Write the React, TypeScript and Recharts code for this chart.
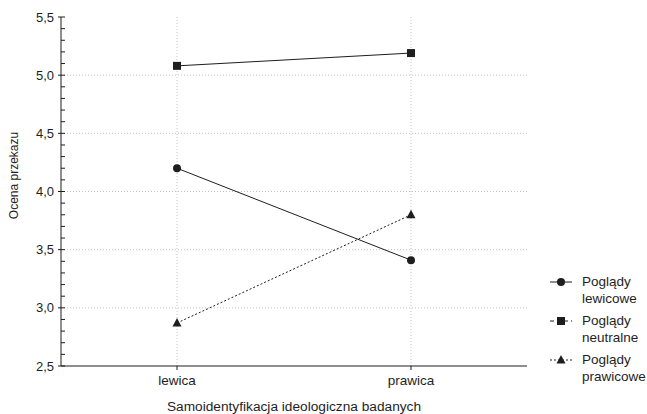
import React from "react";
import { LineChart, Line, XAxis, YAxis, ReferenceLine } from "recharts";

const categories = ["lewica", "prawica"];
const lewicowe = [4.2, 3.41];
const neutralne = [5.08, 5.19];
const prawicowe = [2.87, 3.8];

const yMajorTicks = [2.5, 3, 3.5, 4, 4.5, 5, 5.5];
const yMinorTicks = [
  2.5, 2.6, 2.7, 2.8, 2.9, 3, 3.1, 3.2, 3.3, 3.4, 3.5, 3.6, 3.7, 3.8, 3.9, 4,
  4.1, 4.2, 4.3, 4.4, 4.5, 4.6, 4.7, 4.8, 4.9, 5, 5.1, 5.2, 5.3, 5.4, 5.5,
];

const seriesKeys = ["lewicowe", "neutralne", "prawicowe"];
const legendLabels = [
  ["Poglądy", "lewicowe"],
  ["Poglądy", "neutralne"],
  ["Poglądy", "prawicowe"],
];

const data = categories.map((name, i) => ({
  name,
  lewicowe: lewicowe[i],
  neutralne: neutralne[i],
  prawicowe: prawicowe[i],
}));

const FONT = "'Liberation Sans', Arial, sans-serif";
const INK = "#1e1e1e";
const GRID = "#c4c4c4";

const isMajor = (v: number) => Math.abs(v * 2 - Math.round(v * 2)) < 1e-6;

const LeftTick = (props: any) => {
  const { x, y, payload } = props;
  const axisX = x + 7;
  const v = payload.value as number;
  if (isMajor(v)) {
    return (
      <g>
        <line x1={axisX - 3} x2={axisX + 4} y1={y} y2={y} stroke={INK} />
        <text
          x={x}
          y={y}
          textAnchor="end"
          dominantBaseline="central"
          fontSize={13}
          fontFamily={FONT}
          fill={INK}
        >
          {v.toFixed(1).replace(".", ",")}
        </text>
      </g>
    );
  }
  return <line x1={axisX} x2={axisX + 4} y1={y} y2={y} stroke={INK} />;
};

const RightTick = (props: any) => {
  const { x, y } = props;
  return <line x1={x - 4} x2={x} y1={y} y2={y} stroke={INK} />;
};

const YTitle = (props: any) => {
  const vb = props.viewBox;
  const cx = vb.x + 14;
  const cy = vb.y + vb.height / 2 - 16;
  return (
    <text
      x={cx}
      y={cy}
      transform={`rotate(-90 ${cx} ${cy})`}
      textAnchor="middle"
      dominantBaseline="central"
      fontSize={12}
      fontFamily={FONT}
      fill={INK}
    >
      Ocena przekazu
    </text>
  );
};

const CircleDot = (p: any) => (
  <circle key={`c-${p.index}`} cx={p.cx} cy={p.cy} r={4} fill={INK} />
);
const SquareDot = (p: any) => (
  <rect key={`s-${p.index}`} x={p.cx - 4} y={p.cy - 4} width={8} height={8} fill={INK} />
);
const TriangleDot = (p: any) => (
  <path
    key={`t-${p.index}`}
    d={`M${p.cx},${p.cy - 5} L${p.cx + 4.5},${p.cy + 3.5} L${p.cx - 4.5},${p.cy + 3.5} Z`}
    fill={INK}
  />
);

const seriesStyle: Record<string, { dash?: string; legendDash?: string; dot: any }> = {
  lewicowe: { dot: CircleDot },
  neutralne: { legendDash: "4 3", dot: SquareDot },
  prawicowe: { dash: "2 2", legendDash: "2 2", dot: TriangleDot },
};

const legendMarker = (key: string) => {
  if (key === "lewicowe") return <circle cx={11} cy={6} r={4} fill={INK} />;
  if (key === "neutralne") return <rect x={7} y={2} width={8} height={8} fill={INK} />;
  return <path d="M11,1 L15.5,9.5 L6.5,9.5 Z" fill={INK} />;
};

export default function App() {
  return (
    <div
      style={{
        position: "absolute",
        left: 0,
        top: 0,
        width: 647,
        height: 414,
        background: "#fff",
        fontFamily: FONT,
      }}
    >
      <LineChart
        width={647}
        height={414}
        data={data}
        margin={{ top: 17, right: 120, bottom: 0, left: 0 }}
      >
        {yMajorTicks.slice(1, -1).map((v) => (
          <ReferenceLine
            key={`h-${v}`}
            y={v}
            yAxisId="left"
            stroke={GRID}
            strokeDasharray="1 2"
          />
        ))}
        {categories.map((c) => (
          <ReferenceLine
            key={`v-${c}`}
            x={c}
            yAxisId="left"
            stroke={GRID}
            strokeDasharray="1 2"
          />
        ))}
        <XAxis
          dataKey="name"
          height={48}
          padding={{ left: 116, right: 116 }}
          stroke={INK}
          tickSize={4}
          tickMargin={5}
          tick={{ fontSize: 13.5, fill: INK, fontFamily: FONT }}
          label={{
            value: "Samoidentyfikacja ideologiczna badanych",
            position: "insideBottom",
            offset: 3,
            fontSize: 13.7,
            fill: INK,
            fontFamily: FONT,
          }}
        />
        <XAxis
          xAxisId="top"
          dataKey="name"
          orientation="top"
          height={0}
          tick={false}
          tickLine={false}
          stroke={INK}
        />
        <YAxis
          yAxisId="left"
          width={61}
          domain={[2.5, 5.5]}
          ticks={yMinorTicks}
          interval={0}
          tickSize={0}
          tickMargin={7}
          tickLine={false}
          stroke={INK}
          tick={<LeftTick />}
          label={<YTitle />}
        />
        <YAxis
          yAxisId="right"
          orientation="right"
          width={0}
          domain={[2.5, 5.5]}
          ticks={yMinorTicks}
          interval={0}
          tickSize={0}
          tickMargin={0}
          tickLine={false}
          stroke={INK}
          tick={<RightTick />}
        />
        {seriesKeys.map((k) => (
          <Line
            key={k}
            yAxisId="left"
            dataKey={k}
            type="linear"
            stroke={INK}
            strokeWidth={1}
            strokeDasharray={seriesStyle[k].dash}
            dot={seriesStyle[k].dot}
            activeDot={false}
            isAnimationActive={false}
          />
        ))}
      </LineChart>
      <div
        style={{
          position: "absolute",
          left: 550,
          top: 273,
          fontSize: 13.5,
          color: INK,
          lineHeight: "17px",
        }}
      >
        {seriesKeys.map((k, i) => (
          <div key={k} style={{ display: "flex", height: 39 }}>
            <svg width={24} height={12} style={{ marginTop: 3, marginRight: 8 }}>
              <line
                x1={0}
                x2={22}
                y1={6}
                y2={6}
                stroke={INK}
                strokeDasharray={seriesStyle[k].legendDash}
              />
              {legendMarker(k)}
            </svg>
            <div>
              {legendLabels[i].map((t) => (
                <div key={t}>{t}</div>
              ))}
            </div>
          </div>
        ))}
      </div>
    </div>
  );
}
